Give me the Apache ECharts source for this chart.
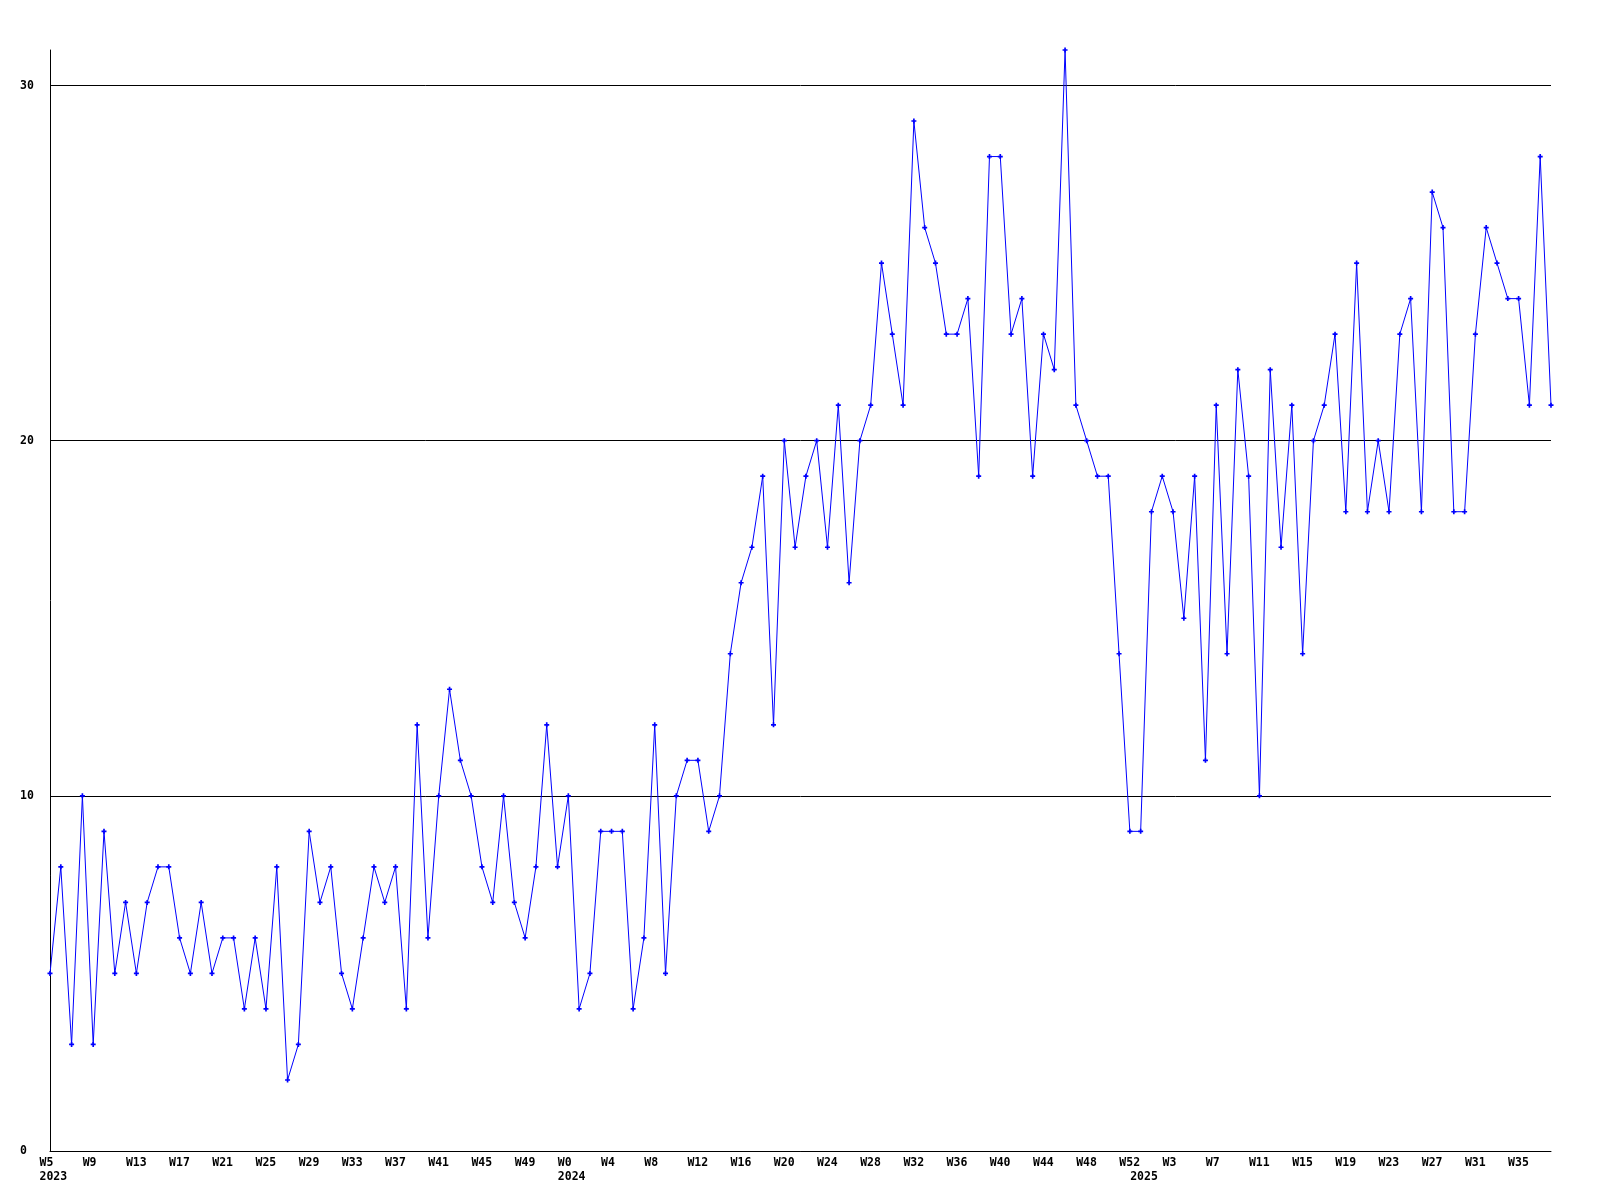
<!DOCTYPE html>
<html><head><meta charset="utf-8">
<script src="https://cdn.jsdelivr.net/npm/echarts@6/dist/echarts.min.js"></script>
<style>html,body{margin:0;padding:0;background:#fff}#c{width:1600px;height:1200px}</style>
</head><body><div id="c"></div>
<script>
// Week numbers per year (as labelled on the axis)
const weeks2023 = range(5, 52);
const weeks2024 = range(0, 52);
const weeks2025 = range(0, 38);

// Weekly values
const values2023 = [5, 8, 3, 10, 3, 9, 5, 7, 5, 7, 8, 8, 6, 5, 7, 5, 6, 6, 4, 6, 4, 8, 2, 3, 9, 7, 8, 5, 4, 6, 8, 7, 8, 4, 12,
  6, 10, 13, 11, 10, 8, 7, 10, 7, 6, 8, 12, 8];
const values2024 = [10, 4, 5, 9, 9, 9, 4, 6, 12, 5, 10, 11, 11, 9, 10, 14, 16, 17, 19, 12, 20, 17, 19, 20, 17, 21, 16, 20, 21,
  25, 23, 21, 29, 26, 25, 23, 23, 24, 19, 28, 28, 23, 24, 19, 23, 22, 31, 21, 20, 19, 19, 14, 9];
const values2025 = [9, 18, 19, 18, 15, 19, 11, 21, 14, 22, 19, 10, 22, 17, 21, 14, 20, 21, 23, 18, 25, 18, 20, 18, 23, 24, 18,
  27, 26, 18, 18, 23, 26, 25, 24, 24, 21, 28, 21];

const yTicks = [0, 10, 20, 30];

function range(a, b) { const r = []; for (let i = a; i <= b; i++) r.push(i); return r; }

const categories = [];
const yearStarts = [];
[[2023, weeks2023], [2024, weeks2024], [2025, weeks2025]].forEach(([y, ws]) => {
  yearStarts.push(categories.length);
  ws.forEach(w => categories.push(y + '-W' + w));
});
const values = values2023.concat(values2024, values2025);

const FONT = { fontFamily: 'DejaVu Sans Mono', fontSize: 11.5, fontWeight: 'bold', color: '#000' };
const plus = 'path://M1,0 H2 V1 H3 V2 H2 V3 H1 V2 H0 V1 H1 Z';

const chart = echarts.init(document.getElementById('c'), null, { renderer: 'canvas' });
chart.setOption({
  animation: false,
  backgroundColor: '#fff',
  grid: { left: 50, right: 49, top: 50, bottom: 49 },
  xAxis: [
    {
      type: 'category', data: categories, boundaryGap: false,
      axisLine: { show: true, lineStyle: { color: '#000', width: 1 } },
      axisTick: { show: false },
      splitLine: { show: false },
      axisLabel: {
        interval: 3, margin: 6,
        formatter: v => '{w|' + v.split('-')[1] + '}',
        rich: { w: Object.assign({ width: 21, align: 'left' }, FONT) }
      }
    },
    {
      type: 'category', data: categories, boundaryGap: false, position: 'bottom',
      axisLine: { show: false }, axisTick: { show: false }, splitLine: { show: false },
      axisLabel: {
        interval: (i) => yearStarts.includes(i), margin: 20,
        formatter: v => '{w|' + v.split('-')[0] + '}',
        rich: { w: Object.assign({ width: 21, align: 'left' }, FONT) }
      }
    }
  ],
  yAxis: {
    type: 'value', min: yTicks[0], max: Math.max.apply(null, values), interval: yTicks[1] - yTicks[0],
    axisLine: { show: true, lineStyle: { color: '#000', width: 1 } },
    axisTick: { show: false },
    splitLine: { show: true, showMaxLine: false, lineStyle: { color: '#000', width: 1 } },
    axisLabel: Object.assign({ showMaxLabel: false, align: 'left', margin: 30 }, FONT)
  },
  series: [{
    type: 'line', data: values, xAxisIndex: 0,
    symbol: plus, symbolSize: 5, showAllSymbol: true,
    itemStyle: { color: '#0000ff' },
    lineStyle: { color: '#0000ff', width: 1 }
  }]
});
</script></body></html>
